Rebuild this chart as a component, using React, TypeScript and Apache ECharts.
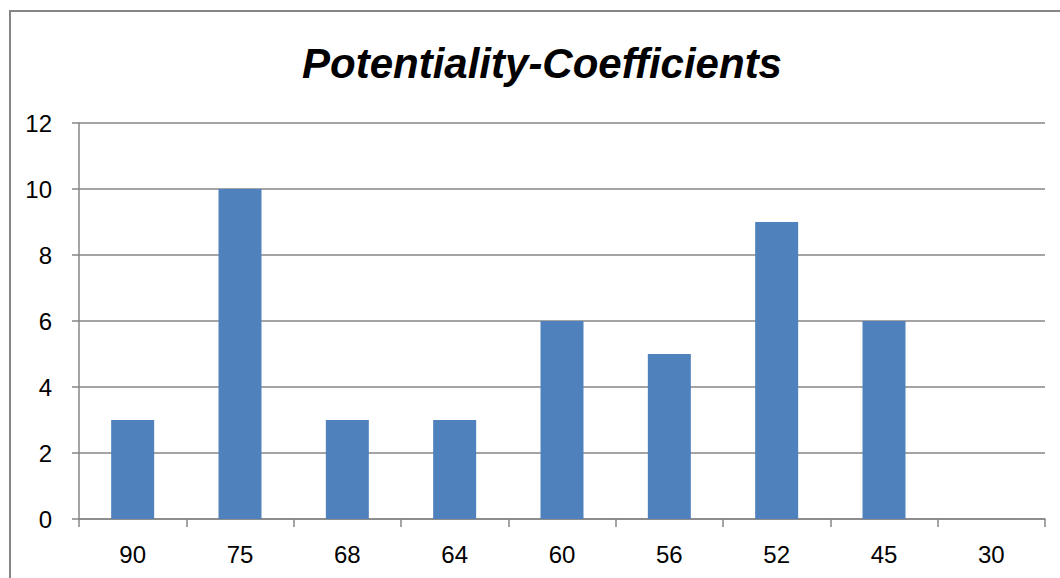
import React, { useEffect, useRef } from "react";
import * as echarts from "echarts";

const categories = ["90", "75", "68", "64", "60", "56", "52", "45", "30"];
const values = [3, 10, 3, 3, 6, 5, 9, 6, 0];
const titleText = "Potentiality-Coefficients";

export default function App() {
  const ref = useRef<HTMLDivElement>(null);
  useEffect(() => {
    if (!ref.current) return;
    const chart = echarts.init(ref.current, null, { renderer: "svg" });
    const gray = "#868686";
    chart.setOption({
      animation: false,
      backgroundColor: "#ffffff",
      textStyle: { fontFamily: "Liberation Sans" },
      grid: { left: 79, right: 15, top: 123, bottom: 59, containLabel: false },
      graphic: [
        {
          type: "rect",
          shape: { x: 10, y: 11, width: 1070, height: 590 },
          style: { fill: "none", stroke: gray, lineWidth: 2 },
          z: 0,
        },
        {
          type: "text",
          x: 542,
          y: 63,
          style: {
            text: titleText,
            font: "italic bold 42px 'Liberation Sans'",
            fill: "#000",
            textAlign: "center",
            textVerticalAlign: "middle",
          },
        },
      ],
      xAxis: {
        type: "category",
        data: categories,
        boundaryGap: true,
        axisLine: { lineStyle: { color: gray, width: 1.5 } },
        axisTick: { show: true, length: 8, lineStyle: { color: gray, width: 1.5 } },
        axisLabel: { color: "#000", fontSize: 24, margin: 23, fontFamily: "Liberation Sans" },
      },
      yAxis: {
        type: "value",
        min: 0,
        max: 12,
        interval: 2,
        axisLine: { show: true, lineStyle: { color: gray, width: 1.5 } },
        axisTick: { show: true, length: 7, lineStyle: { color: gray, width: 1.5 } },
        splitLine: { show: true, lineStyle: { color: gray, width: 1.5 } },
        axisLabel: { color: "#000", fontSize: 24, margin: 27, fontFamily: "Liberation Sans" },
      },
      series: [
        {
          type: "bar",
          data: values,
          barWidth: 43,
          itemStyle: { color: "#4F81BD" },
        },
      ],
    });
    return () => chart.dispose();
  }, []);
  return (
    <div
      ref={ref}
      style={{ position: "fixed", left: 0, top: 0, width: 1060, height: 578 }}
    />
  );
}
